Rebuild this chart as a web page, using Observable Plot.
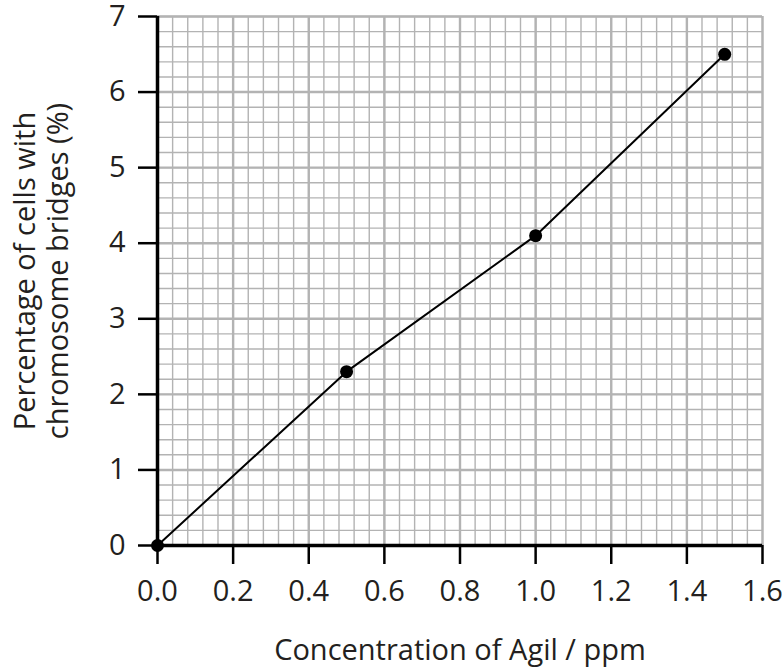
<!DOCTYPE html>
<html>
<head>
<meta charset="utf-8">
<script src="https://cdn.jsdelivr.net/npm/d3@7"></script>
<script src="https://cdn.jsdelivr.net/npm/@observablehq/plot@0.6"></script>
<style>
  body { margin: 0; background: #fff; }
  #chart svg { font-family: "Open Sans", sans-serif; overflow: visible; }
  #chart svg text { font-size: 29px; fill: #231f20; }
</style>
</head>
<body>
<div id="chart"></div>
<script>
const concentration = [0, 0.5, 1.0, 1.5];
const percentage = [0, 2.3, 4.1, 6.5];
const xTicks = [0, 0.2, 0.4, 0.6, 0.8, 1.0, 1.2, 1.4, 1.6];
const yTicks = [0, 1, 2, 3, 4, 5, 6, 7];
const xLabel = "Concentration of Agil / ppm";
const yLabel = "Percentage of cells with\nchromosome bridges (%)";

const data = concentration.map((c, i) => ({x: c, y: percentage[i]}));
const xMinor = d3.range(0, 1.6 + 1e-9, 0.04);
const yMinor = d3.range(0, 7 + 1e-9, 0.2);
const ink = "#231f20";
const gridColor = "#b3b3b3";

const chart = Plot.plot({
  width: 782,
  height: 670,
  marginLeft: 157,
  marginRight: 20,
  marginTop: 16,
  marginBottom: 125,
  x: {domain: [0, 1.6], ticks: xTicks, tickFormat: d3.format(".1f")},
  y: {domain: [0, 7], ticks: yTicks, tickFormat: d3.format("d")},
  style: {background: "#fff"},
  marks: [
    Plot.ruleX(xMinor, {stroke: gridColor, strokeWidth: 1.4}),
    Plot.ruleY(yMinor, {stroke: gridColor, strokeWidth: 1.4}),
    Plot.ruleX(xTicks, {stroke: gridColor, strokeWidth: 2.4}),
    Plot.ruleY(yTicks, {stroke: gridColor, strokeWidth: 2.4}),
    Plot.axisX({ticks: xTicks, tickFormat: d3.format(".1f"), tickSize: 19, tickPadding: 16, strokeWidth: 2.5, stroke: "#000", label: null}),
    Plot.axisY({ticks: yTicks, tickFormat: d3.format("d"), tickSize: 19, tickPadding: 13, strokeWidth: 2.5, stroke: "#000", label: null}),
    Plot.ruleX([0], {stroke: "#000", strokeWidth: 3.5}),
    Plot.ruleY([0], {stroke: "#000", strokeWidth: 3.5}),
    Plot.line(data, {x: "x", y: "y", stroke: "#000", strokeWidth: 2}),
    Plot.dot(data, {x: "x", y: "y", r: 6.5, fill: "#000", stroke: "none"}),
    Plot.text([xLabel], {frameAnchor: "bottom", dy: 105, fill: ink, lineAnchor: "middle", textAnchor: "middle"}),
    Plot.text([yLabel], {frameAnchor: "left", dx: -117, dy: -10, rotate: -90, fill: ink, lineAnchor: "middle", textAnchor: "middle", lineHeight: 1.15})
  ]
});
document.getElementById("chart").appendChild(chart);
</script>
</body>
</html>
